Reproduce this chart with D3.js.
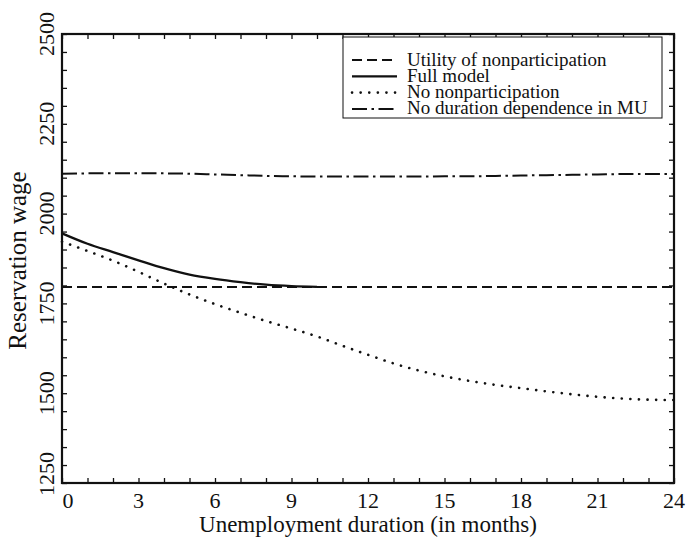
<!DOCTYPE html>
<html>
<head>
<meta charset="utf-8">
<script src="https://cdn.jsdelivr.net/npm/d3@7"></script>
<style>
  html, body { margin: 0; padding: 0; background: #fff; }
  svg { display: block; }
</style>
</head>
<body>
<svg id="chart" width="686" height="538"></svg>
<script>
// ---- data ----
const months = d3.range(0, 25);
const xTicks = [0, 3, 6, 9, 12, 15, 18, 21, 24];
const yTicks = [1250, 1500, 1750, 2000, 2250, 2500];
const seriesNames = ["Utility of nonparticipation", "Full model", "No nonparticipation", "No duration dependence in MU"];

const utilityNonpart = [1796, 1796, 1796, 1796, 1796, 1796, 1796, 1796, 1796, 1796, 1796, 1796, 1796,
                        1796, 1796, 1796, 1796, 1796, 1796, 1796, 1796, 1796, 1796, 1796, 1796];
const fullModelMonths = [0, 1, 2, 3, 4, 5, 6, 7, 8, 9, 10];
const fullModel = [1945, 1916, 1893, 1870, 1848, 1830, 1818, 1809, 1802, 1798, 1796];
const noNonpart = [1922, 1896, 1869, 1838, 1805, 1775, 1748, 1724, 1701, 1680, 1658, 1632, 1607,
                   1583, 1563, 1547, 1534, 1523, 1514, 1505, 1497, 1490, 1485, 1482, 1481];
const noDurDep = [2111, 2112, 2112, 2112, 2112, 2111, 2109, 2107, 2105, 2104, 2103, 2103, 2103,
                  2103, 2103, 2104, 2104, 2105, 2106, 2107, 2108, 2109, 2110, 2110, 2110];

// ---- layout ----
const FONT = '"Liberation Serif", "Times New Roman", Tinos, "Noto Serif", "DejaVu Serif", serif';
const svg = d3.select("#chart");
const L = 62, R = 674, T = 34, B = 483;
const x = d3.scaleLinear().domain([0, 24]).range([L, R]);
const y = d3.scaleLinear().domain([1250, 2500]).range([B, T]);
const ink = "#111";

// minor/major ticks (inward, all four sides)
const tickLen = 5;
const g = svg.append("g");
const xAll = d3.range(0, 25, 1);
const yAll = d3.range(1250, 2501, 50);
g.append("g").attr("transform", `translate(0,${B})`)
  .call(d3.axisBottom(x).tickValues(xAll).tickSize(-tickLen).tickFormat(""))
  .call(s => s.select(".domain").remove());
g.append("g").attr("transform", `translate(0,${T})`)
  .call(d3.axisTop(x).tickValues(xAll).tickSize(-tickLen).tickFormat(""))
  .call(s => s.select(".domain").remove());
g.append("g").attr("transform", `translate(${L},0)`)
  .call(d3.axisLeft(y).tickValues(yAll).tickSize(-tickLen).tickFormat(""))
  .call(s => s.select(".domain").remove());
g.append("g").attr("transform", `translate(${R},0)`)
  .call(d3.axisRight(y).tickValues(yAll).tickSize(-tickLen).tickFormat(""))
  .call(s => s.select(".domain").remove());
g.selectAll(".tick line").attr("stroke", ink).attr("stroke-width", 1.3);

// series lines
const line = d3.line().x(d => x(d[0])).y(d => y(d[1])).curve(d3.curveMonotoneX);
const plot = svg.append("g");
const styles = [
  { data: months.map((m, i) => [m, utilityNonpart[i]]), dash: "10,5", w: 2, cap: "butt" },
  { data: fullModelMonths.map((m, i) => [m, fullModel[i]]), dash: null, w: 2.3, cap: "butt" },
  { data: months.map((m, i) => [m, noNonpart[i]]), dash: "0.1,8.5", w: 2.6, cap: "round" },
  { data: months.map((m, i) => [m, noDurDep[i]]), dash: "15,4.5,2.5,4.5", w: 2, cap: "butt" }
];
styles.forEach(s => {
  plot.append("path").datum(s.data)
    .attr("d", line).attr("fill", "none").attr("stroke", ink)
    .attr("stroke-width", s.w)
    .attr("stroke-dasharray", s.dash)
    .attr("stroke-linecap", s.cap);
});

// frame
svg.append("rect").attr("x", L).attr("y", T).attr("width", R - L).attr("height", B - T)
  .attr("fill", "none").attr("stroke", ink).attr("stroke-width", 2.2);

// tick labels
const fs = 22;
svg.append("g").selectAll("text").data(xTicks).join("text")
  .attr("x", d => x(d) + (d === 0 ? 6 : 0)).attr("y", B + 25)
  .attr("text-anchor", "middle").attr("font-family", FONT).attr("font-size", fs).attr("fill", ink).text(d => d);
svg.append("g").selectAll("text").data(yTicks).join("text")
  .attr("transform", d => `translate(54,${y(d) + (d === 1250 ? -9 : 0)}) rotate(-90)`)
  .attr("text-anchor", "middle").attr("font-family", FONT).attr("font-size", fs).attr("fill", ink).text(d => d);

// axis titles
svg.append("text").attr("x", (L + R) / 2).attr("y", B + 49)
  .attr("text-anchor", "middle").attr("font-family", FONT).attr("font-size", 23).attr("fill", ink)
  .text("Unemployment duration (in months)");
svg.append("text").attr("transform", `translate(26,${(T + B) / 2 + 2}) rotate(-90)`)
  .attr("text-anchor", "middle").attr("font-family", FONT).attr("font-size", 25).attr("fill", ink)
  .text("Reservation wage");

// legend
const lg = svg.append("g");
lg.append("rect").attr("x", 343).attr("y", 37).attr("width", 319).attr("height", 81)
  .attr("fill", "#fff").attr("stroke", ink).attr("stroke-width", 1);
const rowY = [60, 76.3, 92.6, 108.9];
styles.forEach((s, i) => {
  lg.append("line").attr("x1", 352).attr("x2", 397).attr("y1", rowY[i]).attr("y2", rowY[i])
    .attr("stroke", ink).attr("stroke-width", s.w).attr("stroke-dasharray", s.dash)
    .attr("stroke-linecap", s.cap);
  lg.append("text").attr("x", 407).attr("y", rowY[i] + 5.5)
    .attr("font-family", FONT).attr("font-size", 19).attr("fill", ink).text(seriesNames[i]);
});
</script>
</body>
</html>
